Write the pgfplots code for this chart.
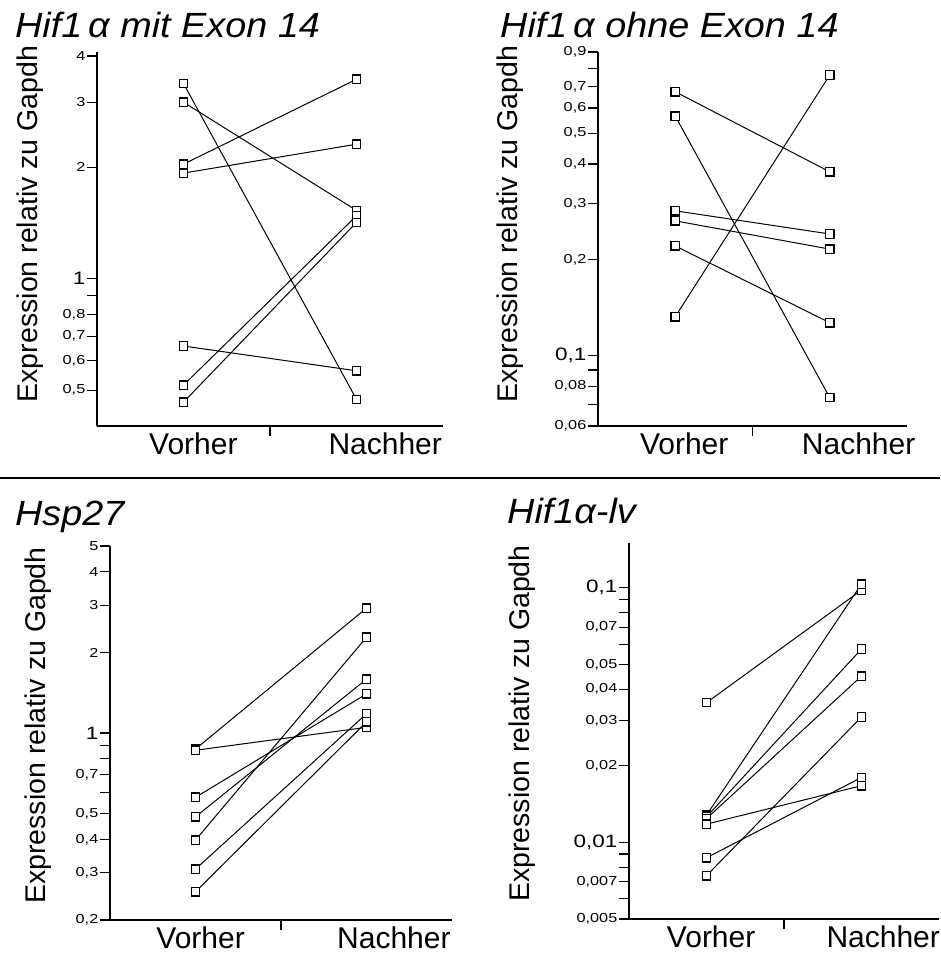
\documentclass[border=0pt]{standalone}
\usepackage{fontspec}
\setmainfont{Liberation Sans}
\newfontfamily\tickfont[FakeStretch=1.25]{Liberation Sans}
\newfontfamily\titlefont[FakeStretch=1.08]{Liberation Sans}
\usepackage{pgfplots}
\pgfplotsset{compat=1.18}

\pgfplotsset{
  panel/.style={
    scale only axis, anchor=south west,
    axis lines=left, axis line style={-, line width=1.5pt},
    xmin=0.5, xmax=2.5,
    xtick={1.5}, xticklabels={},
    tick align=outside, major tick length=10pt,
    tick style={black, line width=1.1pt},
    yminorticks=false,
    yticklabel style={font=\tickfont\fontsize{13}{13}\selectfont, inner sep=1.5pt},
    extra x tick style={major tick length=0pt, tick label style={font=\fontsize{30}{30}\selectfont, yshift=-3pt}},
    extra x tick labels={Vorher,Nachher},
    ylabel={Expression relativ zu Gapdh},
    ylabel style={font=\fontsize{28.5}{28.5}\selectfont, anchor=center, rotate=0},
    clip=false,
    every axis plot post/.style={black, solid, line width=1pt, mark=square*, mark size=4.2pt, mark options={fill=white, draw=black, line width=1.3pt, solid}},
  },
}
\newcommand{\bigtl}[1]{{\fontsize{18}{18}\selectfont #1}}

\begin{document}
\begin{tikzpicture}
\useasboundingbox (0pt,0pt) rectangle (940pt,-960pt);
\fill[white] (0pt,0pt) rectangle (940pt,-960pt);

% separator
\draw[line width=1.2pt] (0pt,-478pt) -- (940pt,-478pt);

% titles
\tikzset{ttl/.style={anchor=base west, inner sep=0pt, font=\titlefont\itshape\fontsize{35}{35}\selectfont}}
\node[ttl] at (15pt,-38pt) {Hif1\,α mit Exon 14};
\node[ttl] at (500pt,-38pt) {Hif1\,α ohne Exon 14};
\node[ttl] at (15pt,-525pt) {Hsp27};
\node[ttl] at (507pt,-523pt) {Hif1α-lv};

% Panel 1
\begin{semilogyaxis}[panel, at={(97pt,-426pt)}, width=346pt, height=374pt,
  ymin=0.4, ymax=4.1,
  ytick={0.5,0.6,0.7,0.8,0.9,1,2,3,4},
  yticklabels={{0,5},{0,6},{0,7},{0,8},{},\bigtl{1},2,3,4},
  extra x ticks={1.057,2.166},
  ylabel style={at={(axis description cs:-0.194,0.54)}}]
\addplot coordinates {(1,3.37) (2,0.472)};
\addplot coordinates {(1,3.00) (2,1.53)};
\addplot coordinates {(1,2.04) (2,3.46)};
\addplot coordinates {(1,1.93) (2,2.31)};
\addplot coordinates {(1,0.658) (2,0.564)};
\addplot coordinates {(1,0.516) (2,1.48)};
\addplot coordinates {(1,0.464) (2,1.42)};
\end{semilogyaxis}

% Panel 2
\begin{semilogyaxis}[panel, at={(598pt,-426pt)}, width=309pt, height=374pt,
  ymin=0.06, ymax=0.9,
  ytick={0.06,0.07,0.08,0.09,0.1,0.2,0.3,0.4,0.5,0.6,0.7,0.8,0.9},
  yticklabels={{0,06},{},{0,08},{},\bigtl{0,1},{0,2},{0,3},{0,4},{0,5},{0,6},{0,7},{},{0,9}},
  extra x ticks={1.058,2.187},
  ylabel style={at={(axis description cs:-0.285,0.54)}}]
\addplot coordinates {(1,0.675) (2,0.378)};
\addplot coordinates {(1,0.566) (2,0.0737)};
\addplot coordinates {(1,0.285) (2,0.241)};
\addplot coordinates {(1,0.265) (2,0.216)};
\addplot coordinates {(1,0.221) (2,0.1268)};
\addplot coordinates {(1,0.1324) (2,0.762)};
\end{semilogyaxis}

% Panel 3
\begin{semilogyaxis}[panel, at={(110pt,-920pt)}, width=342pt, height=374pt,
  ymin=0.2, ymax=5,
  ytick={0.2,0.3,0.4,0.5,0.6,0.7,0.8,0.9,1,2,3,4,5},
  yticklabels={{0,2},{0,3},{0,4},{0,5},{},{0,7},{},{},\bigtl{1},2,3,4,5},
  extra x ticks={1.03,2.16},
  ylabel style={at={(axis description cs:-0.21,0.52)}}]
\addplot coordinates {(1,0.871) (2,2.93)};
\addplot coordinates {(1,0.862) (2,1.05)};
\addplot coordinates {(1,0.575) (2,1.40)};
\addplot coordinates {(1,0.486) (2,1.59)};
\addplot coordinates {(1,0.398) (2,2.28)};
\addplot coordinates {(1,0.310) (2,1.18)};
\addplot coordinates {(1,0.255) (2,1.10)};
\end{semilogyaxis}

% Panel 4
\begin{semilogyaxis}[panel, at={(629pt,-919pt)}, width=310pt, height=376pt,
  ymin=0.005, ymax=0.15,
  ytick={0.005,0.006,0.007,0.008,0.009,0.01,0.02,0.03,0.04,0.05,0.06,0.07,0.08,0.09,0.1},
  yticklabels={{0,005},{},{0,007},{},{},\bigtl{0,01},{0,02},{0,03},{0,04},{0,05},{},{0,07},{},{},\bigtl{0,1}},
  extra x ticks={1.03,2.14},
  ylabel style={at={(axis description cs:-0.345,0.52)}}]
\addplot coordinates {(1,0.0354) (2,0.098)};
\addplot coordinates {(1,0.0128) (2,0.1034)};
\addplot coordinates {(1,0.0126) (2,0.0575)};
\addplot coordinates {(1,0.0124) (2,0.045)};
\addplot coordinates {(1,0.0118) (2,0.0167)};
\addplot coordinates {(1,0.0087) (2,0.018)};
\addplot coordinates {(1,0.0074) (2,0.0311)};
\end{semilogyaxis}
\end{tikzpicture}
\end{document}
